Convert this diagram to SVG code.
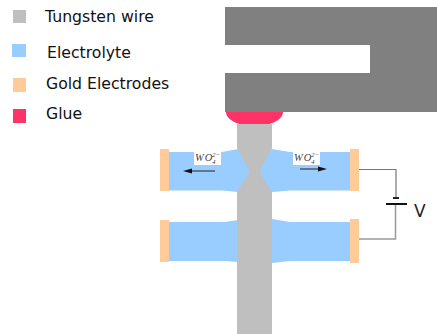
<svg xmlns="http://www.w3.org/2000/svg" width="437" height="334" viewBox="0 0 437 334">
<style>
.lbl{font-family:"DejaVu Sans","Liberation Sans",sans-serif;font-size:15.7px;fill:#111}
.wire{fill:#bfbfbf}.ely{fill:#99ccff}.gold{fill:#ffcc99}.glue{fill:#ff3366}
.w{fill:none;stroke:#777;stroke-width:1.2}
.ion{font-family:"Liberation Serif",serif;font-style:italic;fill:#444;font-size:10.5px;letter-spacing:1px}
.sub{font-size:7px;letter-spacing:0}
</style>
<defs>
<marker id="ah" markerWidth="9" markerHeight="6" refX="0" refY="3" orient="auto" markerUnits="userSpaceOnUse"><path d="M0 0.5L9 3L0 5.5Z" fill="#111"/></marker>
</defs>
<rect width="437" height="334" fill="#fff"/>
<g id="legend">
<rect class="wire" x="13" y="10" width="13" height="13"/>
<text class="lbl" x="45" y="22">Tungsten wire</text>
<rect class="ely" x="12" y="44" width="14" height="13"/>
<text class="lbl" x="47" y="58">Electrolyte</text>
<rect class="gold" x="13" y="78" width="13" height="14"/>
<text class="lbl" x="46" y="89">Gold Electrodes</text>
<rect class="glue" x="13" y="109" width="13" height="14"/>
<text class="lbl" x="46" y="119">Glue</text>
</g>
<g id="holder"><path d="M225 7H437V112H225V73H370V45H225Z" fill="#808080"/></g>
<g id="glue"><path d="M226 112H283C283 120 270 126 254 126C239 126 226 120 226 112Z" class="glue"/></g>
<g id="upper-electrolyte">
<path class="ely" d="M169 152H222L238 149H250V192H238L222 190.500H169Z"/>
<path class="ely" d="M350 152H290L272 149H258V192H272L290 190.500H350Z"/>
</g>
<g id="lower-electrolyte">
<path class="ely" d="M169 222H225L238 220V262L225 261H169Z"/>
<path class="ely" d="M350 222H290L272 219V263L290 261H350Z"/>
</g>
<g id="wire"><path class="wire" d="M237 124H272V148L260 170V173L272 192V334H237V192L249 173V170L237 148Z"/></g>
<g id="electrodes">
<rect class="gold" x="160" y="149" width="9" height="42"/>
<rect class="gold" x="350" y="149" width="9" height="42"/>
<rect class="gold" x="160" y="220" width="9" height="42"/>
<rect class="gold" x="350" y="219" width="9" height="44"/>
</g>
<g id="ions">
<rect x="194" y="152" width="27" height="13" fill="#fff"/>
<text class="ion" x="195" y="161">WO<tspan class="sub" dy="2.500" x="212">4</tspan><tspan class="sub" dy="-6.500" x="212">2−</tspan></text>
<rect x="293" y="152" width="27" height="13" fill="#fff"/>
<text class="ion" x="294" y="161">WO<tspan class="sub" dy="2.500" x="311">4</tspan><tspan class="sub" dy="-6.500" x="311">2−</tspan></text>
</g>
<g id="connectors">
<path d="M215 171H192" stroke="#222" fill="none" stroke-width="1" marker-end="url(#ah)"/>
<path d="M300 169H318" stroke="#222" fill="none" stroke-width="1" marker-end="url(#ah)"/>
<path class="w" d="M359 169.500H396V198"/>
<path d="M359 239H395.500V204" fill="none" stroke="#999" stroke-width="1.500"/>
</g>
<g id="battery">
<path d="M393 198H399" stroke="#222" stroke-width="2"/>
<path d="M386 204H407" stroke="#111" stroke-width="2"/>
<text x="414" y="217" font-family="'DejaVu Sans','Liberation Sans',sans-serif" font-size="17" fill="#222">V</text>
</g>
</svg>
